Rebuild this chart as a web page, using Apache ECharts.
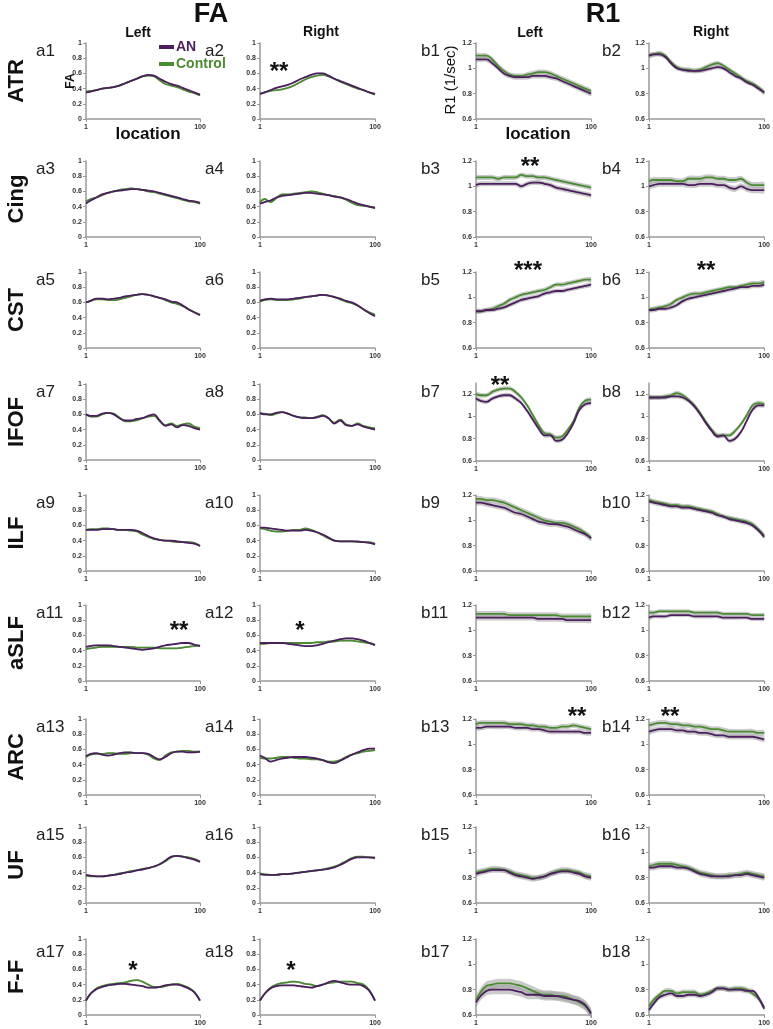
<!DOCTYPE html>
<html><head><meta charset="utf-8">
<script src="https://cdn.jsdelivr.net/npm/echarts@6/dist/echarts.min.js"></script>
<style>html,body{margin:0;padding:0;background:#fff}#c{width:773px;height:1029px}</style>
</head><body><div id="c"></div>
<script>
// ---------- DATA ----------
const locs = [1,5,10,15,20,25,30,35,40,45,50,55,60,65,70,75,80,85,90,95,100];
const tracts = ['ATR','Cing','CST','IFOF','ILF','aSLF','ARC','UF','F-F'];
const faTicks = [0,0.2,0.4,0.6,0.8,1];
const r1Ticks = [0.6,0.8,1,1.2];
const xTicks = [1,100];

// FA (a panels)
const a1_AN      = [0.35,0.36,0.38,0.40,0.41,0.42,0.44,0.47,0.50,0.53,0.56,0.58,0.57,0.53,0.49,0.46,0.44,0.41,0.38,0.35,0.32];
const a1_Control = [0.36,0.37,0.38,0.40,0.41,0.42,0.44,0.47,0.50,0.53,0.56,0.57,0.56,0.51,0.46,0.44,0.42,0.39,0.36,0.34,0.31];
const a2_AN      = [0.33,0.35,0.38,0.41,0.43,0.45,0.48,0.52,0.55,0.58,0.60,0.60,0.57,0.53,0.50,0.47,0.44,0.41,0.38,0.35,0.33];
const a2_Control = [0.33,0.35,0.37,0.38,0.39,0.41,0.44,0.48,0.52,0.55,0.57,0.58,0.56,0.53,0.49,0.46,0.43,0.40,0.38,0.35,0.32];
const a3_AN      = [0.44,0.48,0.52,0.56,0.58,0.60,0.61,0.62,0.63,0.63,0.62,0.61,0.60,0.58,0.56,0.54,0.52,0.50,0.48,0.47,0.45];
const a3_Control = [0.47,0.50,0.52,0.55,0.58,0.60,0.62,0.63,0.64,0.63,0.62,0.60,0.59,0.57,0.55,0.53,0.51,0.49,0.47,0.46,0.44];
const a4_AN      = [0.44,0.46,0.48,0.52,0.54,0.55,0.56,0.57,0.58,0.58,0.57,0.56,0.55,0.53,0.52,0.50,0.47,0.44,0.42,0.40,0.38];
const a4_Control = [0.46,0.50,0.46,0.51,0.56,0.56,0.57,0.58,0.59,0.60,0.59,0.57,0.55,0.54,0.52,0.49,0.45,0.42,0.41,0.40,0.39];
const a5_AN      = [0.60,0.62,0.65,0.65,0.64,0.65,0.66,0.68,0.69,0.70,0.71,0.70,0.68,0.66,0.64,0.61,0.60,0.56,0.51,0.47,0.43];
const a5_Control = [0.60,0.62,0.64,0.64,0.63,0.63,0.64,0.66,0.68,0.70,0.71,0.70,0.68,0.66,0.63,0.60,0.58,0.55,0.51,0.47,0.44];
const a6_AN      = [0.62,0.64,0.65,0.64,0.64,0.64,0.65,0.66,0.67,0.68,0.69,0.70,0.69,0.67,0.65,0.62,0.60,0.56,0.51,0.46,0.42];
const a6_Control = [0.61,0.63,0.64,0.63,0.63,0.63,0.64,0.65,0.67,0.68,0.69,0.70,0.69,0.67,0.64,0.61,0.59,0.56,0.51,0.47,0.44];
const a7_AN      = [0.60,0.58,0.58,0.61,0.62,0.60,0.55,0.52,0.52,0.54,0.55,0.58,0.60,0.52,0.45,0.47,0.43,0.46,0.45,0.42,0.40];
const a7_Control = [0.60,0.57,0.57,0.60,0.62,0.61,0.56,0.51,0.51,0.52,0.55,0.57,0.58,0.51,0.46,0.48,0.45,0.47,0.48,0.44,0.42];
const a8_AN      = [0.62,0.60,0.60,0.62,0.63,0.61,0.58,0.56,0.55,0.55,0.56,0.58,0.55,0.48,0.52,0.46,0.45,0.47,0.44,0.42,0.40];
const a8_Control = [0.61,0.61,0.59,0.61,0.63,0.61,0.58,0.56,0.56,0.55,0.57,0.59,0.55,0.49,0.53,0.47,0.45,0.48,0.45,0.43,0.42];
const a9_AN      = [0.54,0.54,0.54,0.55,0.55,0.55,0.54,0.54,0.54,0.53,0.50,0.46,0.43,0.41,0.40,0.40,0.39,0.38,0.37,0.36,0.33];
const a9_Control = [0.54,0.55,0.55,0.56,0.56,0.55,0.54,0.54,0.53,0.52,0.48,0.45,0.42,0.41,0.40,0.39,0.38,0.38,0.38,0.37,0.33];
const a10_AN      = [0.57,0.57,0.56,0.55,0.54,0.53,0.53,0.53,0.54,0.53,0.51,0.48,0.44,0.40,0.39,0.39,0.39,0.39,0.38,0.37,0.35];
const a10_Control = [0.56,0.55,0.53,0.52,0.52,0.53,0.54,0.54,0.56,0.54,0.51,0.47,0.43,0.40,0.39,0.39,0.39,0.38,0.38,0.38,0.36];
const a11_AN      = [0.45,0.46,0.47,0.47,0.47,0.46,0.45,0.44,0.43,0.42,0.41,0.42,0.43,0.45,0.47,0.48,0.49,0.50,0.50,0.48,0.46];
const a11_Control = [0.42,0.43,0.44,0.45,0.45,0.45,0.45,0.45,0.45,0.44,0.44,0.44,0.44,0.43,0.43,0.43,0.43,0.44,0.45,0.46,0.47];
const a12_AN      = [0.50,0.50,0.50,0.50,0.50,0.49,0.48,0.47,0.46,0.46,0.47,0.49,0.51,0.53,0.55,0.56,0.56,0.55,0.53,0.50,0.47];
const a12_Control = [0.49,0.49,0.50,0.50,0.50,0.50,0.50,0.50,0.50,0.50,0.51,0.51,0.52,0.52,0.53,0.53,0.53,0.52,0.51,0.50,0.48];
const a13_AN      = [0.51,0.54,0.55,0.53,0.52,0.53,0.55,0.56,0.56,0.55,0.55,0.54,0.50,0.47,0.50,0.55,0.57,0.57,0.56,0.56,0.57];
const a13_Control = [0.50,0.53,0.54,0.54,0.55,0.55,0.54,0.54,0.55,0.55,0.55,0.53,0.48,0.46,0.52,0.56,0.57,0.58,0.58,0.57,0.57];
const a14_AN      = [0.52,0.49,0.44,0.46,0.48,0.49,0.50,0.50,0.50,0.49,0.48,0.46,0.43,0.42,0.45,0.49,0.53,0.56,0.59,0.61,0.61];
const a14_Control = [0.49,0.48,0.48,0.49,0.50,0.50,0.49,0.48,0.48,0.47,0.47,0.46,0.44,0.44,0.46,0.50,0.53,0.55,0.57,0.58,0.59];
const a15_AN      = [0.37,0.36,0.35,0.35,0.36,0.37,0.38,0.40,0.41,0.43,0.44,0.46,0.48,0.51,0.56,0.61,0.62,0.61,0.59,0.57,0.54];
const a15_Control = [0.36,0.35,0.35,0.35,0.36,0.37,0.39,0.40,0.42,0.43,0.45,0.46,0.48,0.51,0.55,0.60,0.62,0.61,0.60,0.58,0.55];
const a16_AN      = [0.38,0.37,0.37,0.37,0.38,0.38,0.39,0.40,0.41,0.42,0.43,0.44,0.45,0.47,0.50,0.54,0.58,0.60,0.60,0.60,0.59];
const a16_Control = [0.39,0.38,0.37,0.37,0.38,0.38,0.39,0.40,0.41,0.42,0.43,0.44,0.46,0.48,0.51,0.55,0.59,0.61,0.61,0.60,0.60];
const a17_AN      = [0.19,0.28,0.34,0.37,0.39,0.40,0.41,0.41,0.40,0.39,0.38,0.36,0.36,0.37,0.39,0.40,0.40,0.38,0.35,0.30,0.19];
const a17_Control = [0.19,0.28,0.35,0.38,0.40,0.41,0.42,0.43,0.45,0.46,0.44,0.40,0.37,0.37,0.38,0.40,0.41,0.39,0.36,0.30,0.19];
const a18_AN      = [0.19,0.28,0.35,0.38,0.39,0.39,0.39,0.38,0.37,0.36,0.38,0.40,0.43,0.45,0.43,0.41,0.40,0.40,0.38,0.32,0.19];
const a18_Control = [0.19,0.28,0.36,0.40,0.42,0.43,0.44,0.43,0.41,0.40,0.38,0.40,0.42,0.43,0.44,0.44,0.44,0.42,0.40,0.33,0.19];

// R1 (b panels)
const b1_AN      = [1.07,1.07,1.07,1.04,1.00,0.96,0.94,0.93,0.93,0.93,0.94,0.94,0.94,0.93,0.92,0.90,0.88,0.86,0.84,0.82,0.80];
const b1_Control = [1.10,1.10,1.10,1.07,1.02,0.98,0.95,0.94,0.94,0.95,0.96,0.97,0.97,0.96,0.94,0.92,0.90,0.88,0.86,0.84,0.82];
const b2_AN      = [1.10,1.11,1.11,1.09,1.04,1.00,0.99,0.98,0.98,0.98,0.99,1.00,1.01,1.00,0.97,0.94,0.92,0.89,0.87,0.84,0.81];
const b2_Control = [1.10,1.11,1.12,1.10,1.05,1.01,0.99,0.99,0.98,0.99,1.01,1.03,1.04,1.02,0.99,0.96,0.93,0.90,0.88,0.85,0.81];
const b3_AN      = [1.01,1.02,1.02,1.02,1.02,1.02,1.02,1.02,1.00,1.02,1.03,1.03,1.02,1.01,0.99,0.98,0.97,0.96,0.95,0.94,0.93];
const b3_Control = [1.07,1.07,1.07,1.07,1.06,1.07,1.07,1.07,1.09,1.08,1.08,1.07,1.07,1.06,1.05,1.04,1.03,1.02,1.01,1.00,0.99];
const b4_AN      = [1.00,1.01,1.02,1.02,1.02,1.02,1.02,1.01,1.01,1.02,1.02,1.02,1.01,1.01,0.99,0.98,1.00,0.98,0.97,0.97,0.97];
const b4_Control = [1.04,1.05,1.05,1.05,1.05,1.04,1.04,1.06,1.06,1.06,1.07,1.07,1.06,1.06,1.05,1.05,1.06,1.03,1.01,1.01,1.01];
const b5_AN      = [0.89,0.89,0.90,0.90,0.91,0.92,0.94,0.96,0.98,0.99,1.00,1.01,1.03,1.04,1.05,1.05,1.06,1.07,1.08,1.09,1.10];
const b5_Control = [0.89,0.89,0.90,0.91,0.93,0.95,0.98,1.00,1.02,1.03,1.04,1.05,1.06,1.08,1.10,1.10,1.11,1.12,1.13,1.14,1.14];
const b6_AN      = [0.90,0.90,0.91,0.91,0.92,0.94,0.97,0.99,1.00,1.01,1.02,1.03,1.04,1.05,1.06,1.07,1.08,1.08,1.09,1.09,1.10];
const b6_Control = [0.90,0.91,0.92,0.93,0.95,0.98,1.00,1.02,1.03,1.03,1.04,1.05,1.06,1.07,1.08,1.08,1.09,1.10,1.11,1.11,1.12];
const b7_AN      = [1.16,1.14,1.13,1.16,1.18,1.19,1.19,1.16,1.12,1.05,0.97,0.89,0.83,0.83,0.78,0.79,0.85,0.94,1.06,1.11,1.12];
const b7_Control = [1.20,1.19,1.19,1.22,1.24,1.25,1.25,1.22,1.17,1.10,1.01,0.92,0.85,0.84,0.81,0.82,0.88,0.96,1.08,1.14,1.15];
const b8_AN      = [1.17,1.17,1.17,1.17,1.18,1.18,1.17,1.14,1.09,1.02,0.94,0.87,0.82,0.83,0.78,0.80,0.86,0.96,1.06,1.10,1.10];
const b8_Control = [1.17,1.17,1.17,1.18,1.19,1.21,1.19,1.15,1.10,1.03,0.95,0.88,0.83,0.83,0.83,0.87,0.93,1.01,1.10,1.12,1.11];
const b9_AN      = [1.14,1.14,1.13,1.12,1.11,1.10,1.08,1.06,1.05,1.03,1.01,0.99,0.98,0.97,0.97,0.96,0.95,0.93,0.91,0.89,0.86];
const b9_Control = [1.17,1.17,1.16,1.16,1.15,1.14,1.12,1.10,1.08,1.06,1.04,1.02,1.00,0.99,0.98,0.98,0.97,0.95,0.93,0.90,0.86];
const b10_AN      = [1.15,1.14,1.13,1.12,1.11,1.11,1.10,1.10,1.09,1.08,1.07,1.06,1.04,1.03,1.01,1.00,0.99,0.98,0.96,0.92,0.87];
const b10_Control = [1.16,1.15,1.14,1.13,1.12,1.12,1.11,1.11,1.10,1.09,1.08,1.07,1.05,1.03,1.02,1.01,1.00,0.99,0.97,0.93,0.88];
const b11_AN      = [1.10,1.10,1.10,1.10,1.10,1.10,1.10,1.10,1.10,1.10,1.10,1.09,1.09,1.09,1.09,1.09,1.08,1.08,1.08,1.08,1.08];
const b11_Control = [1.13,1.13,1.13,1.13,1.13,1.13,1.12,1.12,1.12,1.12,1.12,1.12,1.12,1.12,1.12,1.11,1.11,1.11,1.11,1.11,1.11];
const b12_AN      = [1.10,1.11,1.11,1.11,1.12,1.12,1.12,1.12,1.11,1.11,1.11,1.11,1.11,1.10,1.10,1.10,1.10,1.10,1.09,1.09,1.09];
const b12_Control = [1.14,1.14,1.15,1.15,1.15,1.15,1.15,1.15,1.14,1.14,1.14,1.14,1.14,1.13,1.13,1.13,1.13,1.13,1.12,1.12,1.12];
const b13_AN      = [1.13,1.13,1.14,1.14,1.14,1.14,1.14,1.13,1.13,1.13,1.12,1.12,1.11,1.10,1.10,1.10,1.10,1.10,1.10,1.09,1.09];
const b13_Control = [1.16,1.17,1.17,1.17,1.17,1.17,1.16,1.16,1.16,1.15,1.15,1.14,1.14,1.13,1.13,1.14,1.14,1.15,1.14,1.13,1.12];
const b14_AN      = [1.10,1.11,1.12,1.12,1.12,1.11,1.11,1.10,1.10,1.09,1.09,1.08,1.07,1.07,1.06,1.06,1.06,1.06,1.06,1.05,1.04];
const b14_Control = [1.15,1.16,1.17,1.17,1.16,1.16,1.15,1.15,1.14,1.14,1.13,1.12,1.12,1.11,1.10,1.10,1.10,1.10,1.10,1.09,1.09];
const b15_AN      = [0.83,0.84,0.85,0.86,0.86,0.86,0.84,0.82,0.81,0.80,0.79,0.80,0.81,0.83,0.84,0.85,0.85,0.84,0.83,0.81,0.80];
const b15_Control = [0.84,0.85,0.86,0.87,0.87,0.86,0.85,0.83,0.82,0.81,0.80,0.80,0.81,0.83,0.85,0.86,0.86,0.85,0.84,0.82,0.81];
const b16_AN      = [0.88,0.88,0.89,0.89,0.89,0.88,0.88,0.87,0.85,0.83,0.82,0.81,0.81,0.81,0.81,0.82,0.82,0.83,0.82,0.81,0.80];
const b16_Control = [0.89,0.90,0.91,0.91,0.91,0.90,0.89,0.88,0.86,0.84,0.83,0.82,0.81,0.81,0.82,0.82,0.83,0.84,0.83,0.82,0.81];
const b17_AN      = [0.70,0.75,0.79,0.80,0.80,0.80,0.80,0.79,0.78,0.76,0.76,0.76,0.75,0.75,0.75,0.74,0.73,0.72,0.71,0.68,0.61];
const b17_Control = [0.72,0.78,0.83,0.84,0.85,0.85,0.85,0.84,0.83,0.81,0.79,0.77,0.76,0.76,0.75,0.75,0.74,0.72,0.70,0.67,0.62];
const b18_AN      = [0.64,0.69,0.74,0.76,0.77,0.75,0.75,0.76,0.76,0.75,0.76,0.78,0.81,0.81,0.80,0.80,0.80,0.79,0.79,0.74,0.65];
const b18_Control = [0.67,0.72,0.76,0.79,0.79,0.77,0.78,0.78,0.78,0.76,0.77,0.79,0.81,0.81,0.80,0.81,0.81,0.80,0.77,0.73,0.66];

// standard-error band half widths (data units) per panel
const seFA = [0.009,0.009,0.010,0.010,0.008,0.008,0.008,0.008,0.008,0.008,0.010,0.010,0.010,0.010,0.008,0.008,0.010,0.010];
const seR1 = [0.020,0.018,0.020,0.024,0.018,0.018,0.020,0.020,0.022,0.018,0.022,0.016,0.020,0.022,0.022,0.022,0.036,0.020];

// significance marks per panel id
const stars = {a2:'**', a11:'**', a12:'*', a17:'*', a18:'*', b3:'**', b5:'***', b6:'**', b7:'**', b13:'**', b14:'**'};

const faAN  = [a1_AN,a2_AN,a3_AN,a4_AN,a5_AN,a6_AN,a7_AN,a8_AN,a9_AN,a10_AN,a11_AN,a12_AN,a13_AN,a14_AN,a15_AN,a16_AN,a17_AN,a18_AN];
const faCtl = [a1_Control,a2_Control,a3_Control,a4_Control,a5_Control,a6_Control,a7_Control,a8_Control,a9_Control,a10_Control,a11_Control,a12_Control,a13_Control,a14_Control,a15_Control,a16_Control,a17_Control,a18_Control];
const r1AN  = [b1_AN,b2_AN,b3_AN,b4_AN,b5_AN,b6_AN,b7_AN,b8_AN,b9_AN,b10_AN,b11_AN,b12_AN,b13_AN,b14_AN,b15_AN,b16_AN,b17_AN,b18_AN];
const r1Ctl = [b1_Control,b2_Control,b3_Control,b4_Control,b5_Control,b6_Control,b7_Control,b8_Control,b9_Control,b10_Control,b11_Control,b12_Control,b13_Control,b14_Control,b15_Control,b16_Control,b17_Control,b18_Control];

// ---------- LAYOUT / STYLE ----------
const PURPLE = '#4b1f5e', GREEN = '#4a8b32', BAND = 'rgba(150,150,150,0.5)', AXIS = '#9a9a9a';
const FONT = '"Liberation Sans", Arial, sans-serif';
const colLeft = [86, 260, 476, 649];
const colW = [114, 115, 115, 116];
const rowTop = [43,161,272,384,495,605,719,827,939];
const rowH = 76;
const idX = [36, 205, 421, 602];

const grids = [], xAxes = [], yAxes = [], series = [], graphics = [];
const pair = arr => arr.map((v,i)=>[locs[i], v]);

// error band drawn through the axis scales (api.coord)
function addBand(gi, arr, se) {
  series.push({type:'custom', coordinateSystem:'cartesian2d', xAxisIndex:gi, yAxisIndex:gi, silent:true, z:1,
    data:[[locs[0], arr[0]]],
    renderItem: function (params, api) {
      const up = arr.map((v,i)=>api.coord([locs[i], v + se]));
      const lo = arr.map((v,i)=>api.coord([locs[i], v - se])).reverse();
      return {type:'polygon', shape:{points: up.concat(lo), smooth:0.25}, style:{fill:BAND, stroke:null}};
    }});
}

let gi = 0;
for (let r = 0; r < 9; r++) {
  for (let c = 0; c < 4; c++) {
    const isFA = c < 2;
    const pIdx = 2*r + (c % 2);
    const id = (isFA ? 'a' : 'b') + (pIdx + 1);
    const tall = (!isFA && r === 3);
    const top = tall ? 383 : rowTop[r];
    const h = tall ? 78 : rowH;
    grids.push({left: colLeft[c], top: top, width: colW[c], height: h});
    xAxes.push({type:'value', gridIndex:gi, min:1, max:100,
      axisLine:{show:true, lineStyle:{color:AXIS, width:1.5}},
      axisTick:{show:true, length:3, lineStyle:{color:AXIS}, customValues:xTicks},
      axisLabel:{customValues:xTicks, fontSize:7, fontWeight:'bold', color:'#333', margin:5, fontFamily:FONT},
      splitLine:{show:false}});
    yAxes.push({type:'value', gridIndex:gi,
      min: isFA ? 0 : 0.6, max: isFA ? 1 : (tall ? 1.3 : 1.2), interval:0.2,
      axisLine:{show:true, lineStyle:{color:AXIS, width:1.5}},
      axisTick:{show:true, length:3, lineStyle:{color:AXIS}, customValues: isFA ? faTicks : r1Ticks},
      axisLabel:{customValues: isFA ? faTicks : r1Ticks, fontSize:7, fontWeight:'bold', color:'#333', margin:4, fontFamily:FONT},
      splitLine:{show:false}});
    const an = isFA ? faAN[pIdx] : r1AN[pIdx];
    const ctl = isFA ? faCtl[pIdx] : r1Ctl[pIdx];
    const se = isFA ? seFA[pIdx] : seR1[pIdx];
    addBand(gi, ctl, se);
    addBand(gi, an, se);
    series.push({name:'Control', type:'line', xAxisIndex:gi, yAxisIndex:gi, smooth:0.4, symbol:'none', silent:true, z:3,
      lineStyle:{color:GREEN, width:1.8}, itemStyle:{color:GREEN}, data: pair(ctl)});
    series.push({name:'AN', type:'line', xAxisIndex:gi, yAxisIndex:gi, smooth:0.4, symbol:'none', silent:true, z:4,
      lineStyle:{color:PURPLE, width:1.8}, itemStyle:{color:PURPLE}, data: pair(an)});

    graphics.push({type:'text', z:100, x: idX[c], y: rowTop[r] + (r === 8 ? 13 : 8),
      style:{text:id, fontSize:17, fontFamily:FONT, fill:'#222', align:'left', verticalAlign:'middle'}});
    gi++;
  }
  graphics.push({type:'text', z:100, x:17, y: rowTop[r] + 38, rotation: Math.PI/2,
    style:{text:tracts[r], fontSize:22, fontWeight:'bold', fontFamily:FONT, fill:'#111', align:'center', verticalAlign:'middle'}});
}

const starPos = {a2:[279,72], a11:[179,631], a12:[300,631], a17:[133,971], a18:[291,971],
  b3:[530,167], b5:[528,271], b6:[706,271], b7:[500,386], b13:[577,717], b14:[670,717]};
Object.keys(stars).forEach(k => {
  graphics.push({type:'text', z:100, x:starPos[k][0], y:starPos[k][1],
    style:{text:stars[k], fontSize:24, fontWeight:'bold', fontFamily:FONT, fill:'#111', align:'center', verticalAlign:'middle'}});
});

const T = (text, x, y, size, extra) => graphics.push(Object.assign({type:'text', z:100, x, y,
  style:Object.assign({text, fontSize:size, fontWeight:'bold', fontFamily:FONT, fill:'#111', align:'center', verticalAlign:'middle'}, (extra||{}).style||{})},
  (extra||{}).el||{}));
T('FA', 211, 15, 27);
T('R1', 603, 15, 27);
T('Left', 138, 33, 14);
T('Right', 321, 32, 14);
T('Left', 530, 33, 14);
T('Right', 711, 32, 14);
T('location', 148, 134, 17);
T('location', 538, 134, 17);
T('FA', 71, 81, 12, {el:{rotation:Math.PI/2}});
T('R1 (1/sec)', 451, 80, 15, {el:{rotation:Math.PI/2}, style:{fontWeight:'normal'}});

const chart = echarts.init(document.getElementById('c'), null, {renderer:'canvas'});
chart.setOption({
  animation:false,
  backgroundColor:'#fff',
  grid: grids, xAxis: xAxes, yAxis: yAxes, series: series,
  legend:{left:154, top:35, orient:'vertical', itemGap:3, itemWidth:15, itemHeight:4, icon:'rect',
    selectedMode:false, z:50,
    data:[{name:'AN', textStyle:{color:PURPLE}}, {name:'Control', textStyle:{color:GREEN}}],
    textStyle:{fontSize:14, fontWeight:'bold', fontFamily:FONT, padding:[0,0,0,-3]}},
  graphic: graphics
});
</script></body></html>
